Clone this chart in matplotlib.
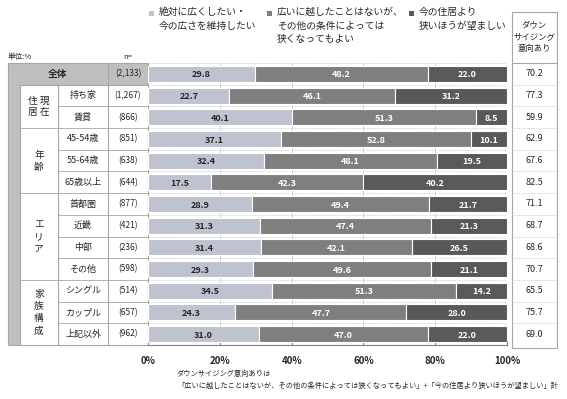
import matplotlib
matplotlib.use("Agg")
import matplotlib.pyplot as plt
import numpy as np

plt.rcParams['font.family'] = ['Noto Sans CJK JP', 'DejaVu Sans']

categories = ["全体", "持ち家", "賃貸", "45-54歳", "55-64歳", "65歳以上",
              "首都圏", "近畿", "中部", "その他", "シングル", "カップル", "上記以外"]
n_labels = ["(2,133)", "(1,267)", "(866)", "(851)", "(638)", "(644)",
            "(877)", "(421)", "(236)", "(598)", "(514)", "(657)", "(962)"]
s1 = [29.8, 22.7, 40.1, 37.1, 32.4, 17.5, 28.9, 31.3, 31.4, 29.3, 34.5, 24.3, 31.0]
s2 = [48.2, 46.1, 51.3, 52.8, 48.1, 42.3, 49.4, 47.4, 42.1, 49.6, 51.3, 47.7, 47.0]
s3 = [22.0, 31.2, 8.5, 10.1, 19.5, 40.2, 21.7, 21.3, 26.5, 21.1, 14.2, 28.0, 22.0]
downsizing = ["70.2", "77.3", "59.9", "62.9", "67.6", "82.5", "71.1", "68.7",
              "68.6", "70.7", "65.5", "75.7", "69.0"]
series_names = ["絶対に広くしたい・\n今の広さを維持したい",
                "広いに越したことはないが、\nその他の条件によっては\n狭くなってもよい",
                "今の住居より\n狭いほうが望ましい"]
groups = [("住 現\n居 在", 1, 2), ("年\n齢", 3, 5), ("エ\nリ\nア", 6, 9),
          ("家\n族\n構\n成", 10, 12)]
ticks = [0, 20, 40, 60, 80, 100]
tick_labels = ["0%", "20%", "40%", "60%", "80%", "100%"]

colors = ["#BEC3CF", "#7F7F7F", "#595959"]
text_colors = ["#262626", "white", "white"]

W, H = 567, 399
fig = plt.figure(figsize=(W / 100, H / 100), dpi=100)

# overlay axes in pixel coords
ov = fig.add_axes([0, 0, 1, 1])
ov.set_xlim(0, W)
ov.set_ylim(H, 0)
ov.axis('off')

top, bot = 63, 345
nrows = len(categories)
rh = (bot - top) / nrows

# bar axes
x0, x1 = 148, 507
ax = fig.add_axes([x0 / W, 1 - bot / H, (x1 - x0) / W, (bot - top) / H])
y = np.arange(nrows)
left = np.zeros(nrows)
for vals, c, tc in zip([s1, s2, s3], colors, text_colors):
    vals = np.array(vals)
    ax.barh(y, vals, left=left, height=0.74, color=c, edgecolor='white',
            linewidth=0.8, zorder=3)
    for yi, (l, v) in enumerate(zip(left, vals)):
        ax.text(l + v / 2, yi + 0.05, f"{v:.1f}", ha='center', va='center',
                fontsize=6.5, color=tc, fontweight='bold', zorder=4)
    left = left + vals
ax.set_xlim(0, 100)
ax.set_ylim(nrows - 0.5, -0.5)
ax.set_yticks([])
ax.set_xticks(ticks)
ax.set_xticklabels(tick_labels, fontsize=7, fontweight='bold', color='#262626')
ax.tick_params(axis='x', direction='in', length=3, color='#808080', pad=8)
for sp in ['top', 'right', 'left']:
    ax.spines[sp].set_visible(False)
ax.spines['bottom'].set_color('#808080')
for t in ticks[1:-1]:
    ax.axvline(t, color='#C8C8C8', lw=0.6, zorder=1)
for b in np.arange(nrows) - 0.5:
    ax.axhline(b, color='#C8C8C8', lw=0.6, ls=(0, (1, 1)), zorder=1)
ax.set_facecolor('none')

# left table
tl = 8
ov.add_patch(plt.Rectangle((tl, top), x0 - tl, bot - top, facecolor='#BFBFBF',
                           edgecolor='#A6A6A6', lw=0.8))
ov.add_patch(plt.Rectangle((20, top + rh), x0 - 20, bot - top - rh,
                           facecolor='white', edgecolor='#A6A6A6', lw=0.8))
ov.plot([108, 108], [top, bot], color='#A6A6A6', lw=0.8)
ov.plot([58, 58], [top + rh, bot], color='#A6A6A6', lw=0.8)
group_starts = [g[1] for g in groups]
for i in range(2, nrows):
    yy = top + i * rh
    xs = 20 if i in group_starts else 58
    ov.plot([xs, x0], [yy, yy], color='#A6A6A6', lw=0.6)
ov.text(58, top + rh / 2, categories[0], ha='center', va='center', fontsize=7,
        fontweight='bold', color='#262626')
for i in range(nrows):
    yc = top + (i + 0.5) * rh
    ov.text(128, yc, n_labels[i], ha='center', va='center', fontsize=6,
            color='#262626')
    if i > 0:
        ov.text(83, yc, categories[i], ha='center', va='center', fontsize=6.5,
                color='#262626')
for label, a, b in groups:
    yc = top + ((a + b + 1) / 2) * rh
    ov.text(39, yc, label, ha='center', va='center', fontsize=7,
            color='#262626', linespacing=1.25)

ov.text(8, 57, "単位:%", ha='left', va='center', fontsize=5.5, color='#262626')
ov.text(128, 57, "n=", ha='center', va='center', fontsize=5.5, color='#262626')

# right column
rx0, rx1 = 512, 557
ov.add_patch(plt.Rectangle((rx0, 12), rx1 - rx0, bot + 3 - 12, facecolor='white',
                           edgecolor='#A6A6A6', lw=0.8))
ov.plot([rx0, rx1], [top, top], color='#A6A6A6', lw=0.8)
for i in range(1, nrows):
    yy = top + i * rh
    ov.plot([rx0, rx1], [yy, yy], color='#C8C8C8', lw=0.6, ls=(0, (1, 1)))
ov.text((rx0 + rx1) / 2, 37, "ダウン\nサイジング\n意向あり", ha='center',
        va='center', fontsize=6, color='#262626', linespacing=1.3)
for i in range(nrows):
    yc = top + (i + 0.5) * rh
    ov.text((rx0 + rx1) / 2, yc, downsizing[i], ha='center', va='center',
            fontsize=6.5, color='#262626')

# legend
leg_x = [152, 270, 412]
for lx, name, c in zip(leg_x, series_names, colors):
    ov.add_patch(plt.Rectangle((lx - 3, 11), 5, 5, facecolor=c, edgecolor='none'))
    ov.text(lx + 7, 7, name, ha='left', va='top', fontsize=7, color='#262626',
            linespacing=1.45)

# footnote
ov.text(177, 374, "ダウンサイジング意向ありは", ha='left', va='center',
        fontsize=5.2, color='#262626')
ov.text(177, 386, "「広いに越したことはないが、その他の条件によっては狭くなってもよい」+「今の住居より狭いほうが望ましい」計",
        ha='left', va='center', fontsize=5.2, color='#262626')

fig.savefig("out.png", dpi=100)
